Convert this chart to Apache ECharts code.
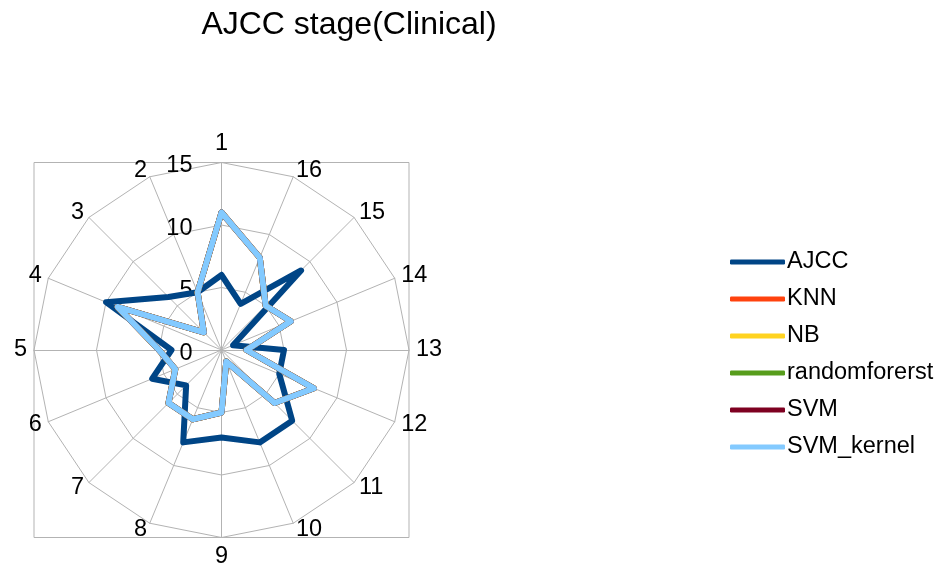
<!DOCTYPE html>
<html>
<head>
<meta charset="utf-8">
<script src="https://cdn.jsdelivr.net/npm/echarts@6/dist/echarts.min.js"></script>
<style>
  html, body { margin: 0; padding: 0; background: #ffffff; }
  #chart { width: 946px; height: 575px; }
</style>
</head>
<body>
<div id="chart"></div>
<script>
// Radar axes, counter-clockwise from the top
const axisNames = ['1', '2', '3', '4', '5', '6', '7', '8', '9', '10', '11', '12', '13', '14', '15', '16'];
const axisMax = 15;
const tickStep = 5;

// Series values, one per axis
const ajcc         = [6, 5, 6, 10, 4, 6, 4, 8, 7, 8, 8, 5, 5, 1, 9, 4];
const knn          = [11, 5, 2, 9, 5, 4, 6, 6, 5, 1, 6, 8, 2, 6, 5, 8];
const nb           = [11, 5, 2, 9, 5, 4, 6, 6, 5, 1, 6, 8, 2, 6, 5, 8];
const randomforerst= [11, 5, 2, 9, 5, 4, 6, 6, 5, 1, 6, 8, 2, 6, 5, 8];
const svm          = [11, 5, 2, 9, 5, 4, 6, 6, 5, 1, 6, 8, 2, 6, 5, 8];
const svmKernel    = [11, 5, 2, 9, 5, 4, 6, 6, 5, 1, 6, 8, 2, 6, 5, 8];

const seriesNames  = ['AJCC', 'KNN', 'NB', 'randomforerst', 'SVM', 'SVM_kernel'];
const seriesValues = [ajcc, knn, nb, randomforerst, svm, svmKernel];
const palette      = ['#004586', '#ff420e', '#ffd320', '#579d1c', '#7e0021', '#83caff'];

const FONT = "'Liberation Sans', Arial, sans-serif";
const cx = 221.5, cy = 350, R = 187.5;
const gridGray = '#b3b3b3';

const chart = echarts.init(document.getElementById('chart'), null, { renderer: 'canvas' });

const indicators = axisNames.map((n, i) => {
  const ind = { name: n, min: 0, max: axisMax };
  if (i === 0) ind.axisLabel = { show: true };
  return ind;
});

chart.setOption({
  animation: false,
  backgroundColor: '#ffffff',
  color: palette,
  title: {
    text: 'AJCC stage(Clinical)',
    left: 344,
    top: 4,
    textAlign: 'center',
    textStyle: { fontFamily: FONT, fontSize: 32, fontWeight: 'normal', color: '#000000' }
  },
  graphic: [{
    type: 'rect',
    z: -1,
    shape: { x: cx - R, y: cy - R, width: 2 * R, height: 2 * R },
    style: { fill: 'none', stroke: gridGray, lineWidth: 1 }
  }],
  legend: {
    orient: 'vertical',
    left: 730,
    top: 250,
    padding: 0,
    itemWidth: 55,
    itemHeight: 5,
    itemGap: 13,
    icon: 'roundRect',
    data: seriesNames,
    textStyle: { fontFamily: FONT, fontSize: 23.5, color: '#000000', lineHeight: 23, padding: [0, 0, 0, -3] }
  },
  radar: {
    center: [cx, cy],
    radius: R,
    startAngle: 90,
    shape: 'polygon',
    splitNumber: axisMax / tickStep,
    indicator: indicators,
    nameGap: 7,
    axisName: { fontFamily: FONT, fontSize: 23.5, color: '#000000' },
    axisLine: { show: true, lineStyle: { color: gridGray, width: 1 } },
    splitLine: { show: true, lineStyle: { color: gridGray, width: 1 } },
    splitArea: { show: false },
    axisTick: { show: false },
    axisLabel: {
      show: false, margin: 29,
      formatter: '{v|{value}}',
      rich: { v: { fontFamily: FONT, fontSize: 23.5, color: '#000000', padding: [7, 0, 0, 0] } }
    }
  },
  series: seriesNames.map((name, i) => ({
    name: name,
    type: 'radar',
    symbol: 'none',
    z: 2 + i,
    lineStyle: { width: 6, color: palette[i], join: 'round', cap: 'round' },
    itemStyle: { color: palette[i] },
    data: [{ value: seriesValues[i], name: name }]
  }))
});
</script>
</body>
</html>
